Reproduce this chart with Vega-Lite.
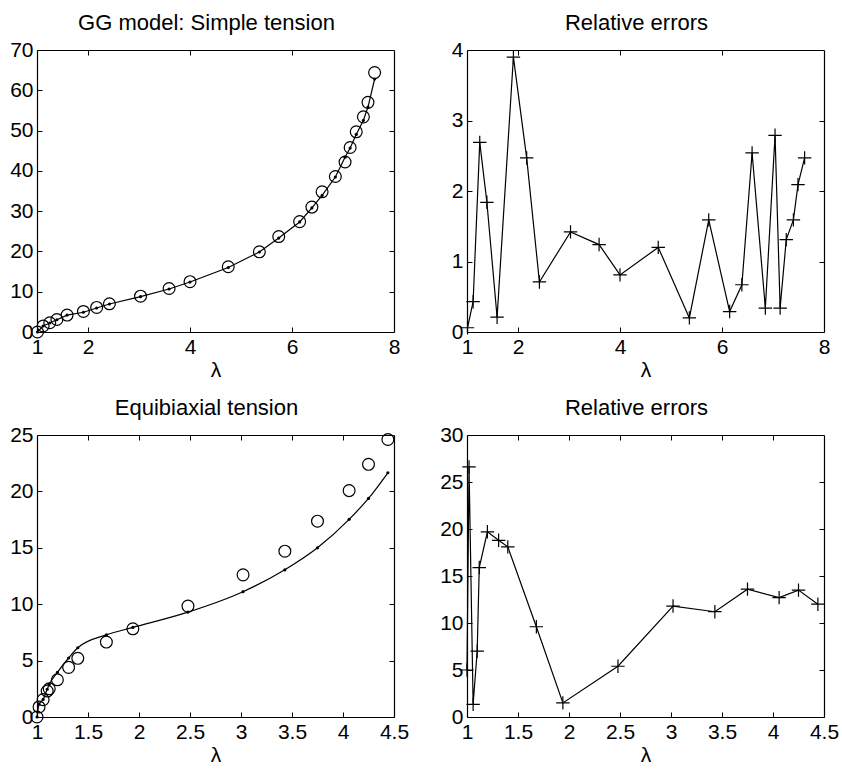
{
  "$schema": "https://vega.github.io/schema/vega-lite/v6.json",
  "background": "white",
  "padding": {"left": 9, "top": 12, "right": 5, "bottom": 5},
  "bounds": "flush",
  "spacing": {"row": 103, "column": 73},
  "columns": 2,
  "config": {
    "view": {"stroke": null},
    "font": "Liberation Sans",
    "axis": {
      "grid": false,
      "domainColor": "black",
      "domainWidth": 1.2,
      "tickColor": "black",
      "tickWidth": 1,
      "tickSize": -5,
      "labelPadding": 9,
      "labelFont": "Liberation Sans",
      "labelFontSize": 21,
      "labelColor": "black",
      "labelFlush": false,
      "labelOverlap": false,
      "titleFont": "Liberation Sans",
      "titleFontSize": 21,
      "titleFontWeight": "normal",
      "titleColor": "black",
      "titlePadding": 2
    },
    "title": {
      "font": "Liberation Sans",
      "fontSize": 22,
      "fontWeight": "normal",
      "color": "black",
      "frame": "group",
      "anchor": "middle",
      "baseline": "alphabetic",
      "offset": 0,
      "dx": -9
    }
  },
  "datasets": {
    "p1": [
      {"lambda": 1.01, "stress": 0, "model": 0},
      {"lambda": 1.12, "stress": 1.5, "model": 1.49},
      {"lambda": 1.25, "stress": 2.3, "model": 2.24},
      {"lambda": 1.39, "stress": 3.1, "model": 3.04},
      {"lambda": 1.59, "stress": 4.2, "model": 4.19},
      {"lambda": 1.91, "stress": 5.1, "model": 4.9},
      {"lambda": 2.17, "stress": 6.1, "model": 5.95},
      {"lambda": 2.42, "stress": 7.0, "model": 6.95},
      {"lambda": 3.03, "stress": 8.9, "model": 8.77},
      {"lambda": 3.59, "stress": 10.8, "model": 10.67},
      {"lambda": 4.0, "stress": 12.5, "model": 12.4},
      {"lambda": 4.75, "stress": 16.2, "model": 16.0},
      {"lambda": 5.36, "stress": 19.9, "model": 19.86},
      {"lambda": 5.74, "stress": 23.7, "model": 23.32},
      {"lambda": 6.15, "stress": 27.4, "model": 27.32},
      {"lambda": 6.39, "stress": 31.0, "model": 30.8},
      {"lambda": 6.59, "stress": 34.8, "model": 33.9},
      {"lambda": 6.85, "stress": 38.6, "model": 38.47},
      {"lambda": 7.04, "stress": 42.2, "model": 43.4},
      {"lambda": 7.14, "stress": 45.8, "model": 45.65},
      {"lambda": 7.26, "stress": 49.7, "model": 49.05},
      {"lambda": 7.40, "stress": 53.4, "model": 52.55},
      {"lambda": 7.49, "stress": 57.0, "model": 55.8},
      {"lambda": 7.62, "stress": 64.4, "model": 62.8}
    ],
    "p2": [
      {"lambda": 1.01, "err": 0.06},
      {"lambda": 1.12, "err": 0.43},
      {"lambda": 1.25, "err": 2.69},
      {"lambda": 1.39, "err": 1.84},
      {"lambda": 1.59, "err": 0.21},
      {"lambda": 1.91, "err": 3.90},
      {"lambda": 2.17, "err": 2.47},
      {"lambda": 2.42, "err": 0.71},
      {"lambda": 3.03, "err": 1.42},
      {"lambda": 3.59, "err": 1.24},
      {"lambda": 4.0, "err": 0.81},
      {"lambda": 4.75, "err": 1.20},
      {"lambda": 5.36, "err": 0.20},
      {"lambda": 5.74, "err": 1.59},
      {"lambda": 6.15, "err": 0.29},
      {"lambda": 6.39, "err": 0.67},
      {"lambda": 6.59, "err": 2.54},
      {"lambda": 6.85, "err": 0.34},
      {"lambda": 7.04, "err": 2.79},
      {"lambda": 7.14, "err": 0.34},
      {"lambda": 7.26, "err": 1.31},
      {"lambda": 7.40, "err": 1.59},
      {"lambda": 7.49, "err": 2.09},
      {"lambda": 7.62, "err": 2.47}
    ],
    "p3": [
      {"lambda": 1.0, "stress": 0, "model": 0},
      {"lambda": 1.02, "stress": 0.89, "model": 1.13},
      {"lambda": 1.06, "stress": 1.54, "model": 1.56},
      {"lambda": 1.10, "stress": 2.3, "model": 2.46},
      {"lambda": 1.12, "stress": 2.5, "model": 2.9},
      {"lambda": 1.20, "stress": 3.3, "model": 3.95},
      {"lambda": 1.31, "stress": 4.4, "model": 5.23},
      {"lambda": 1.40, "stress": 5.2, "model": 6.14},
      {"lambda": 1.68, "stress": 6.64, "model": 7.28},
      {"lambda": 1.94, "stress": 7.82, "model": 7.94},
      {"lambda": 2.48, "stress": 9.83, "model": 9.3},
      {"lambda": 3.02, "stress": 12.6, "model": 11.11},
      {"lambda": 3.43, "stress": 14.7, "model": 13.05},
      {"lambda": 3.75, "stress": 17.36, "model": 15.0},
      {"lambda": 4.06, "stress": 20.07, "model": 17.52},
      {"lambda": 4.25, "stress": 22.4, "model": 19.38},
      {"lambda": 4.44, "stress": 24.6, "model": 21.65}
    ],
    "p4": [
      {"lambda": 1.0, "err": 5.0},
      {"lambda": 1.02, "err": 26.6},
      {"lambda": 1.06, "err": 1.35},
      {"lambda": 1.10, "err": 7.0},
      {"lambda": 1.12, "err": 15.9},
      {"lambda": 1.20, "err": 19.7},
      {"lambda": 1.31, "err": 18.8},
      {"lambda": 1.40, "err": 18.1},
      {"lambda": 1.68, "err": 9.6},
      {"lambda": 1.94, "err": 1.5},
      {"lambda": 2.48, "err": 5.4},
      {"lambda": 3.02, "err": 11.8},
      {"lambda": 3.43, "err": 11.2},
      {"lambda": 3.75, "err": 13.6},
      {"lambda": 4.06, "err": 12.7},
      {"lambda": 4.25, "err": 13.5},
      {"lambda": 4.44, "err": 12.0}
    ]
  },
  "concat": [
    {
      "width": 357, "height": 282,
      "title": "GG model: Simple tension",
      "data": {"name": "p1"},
      "resolve": {"axis": {"x": "independent", "y": "independent"}},
      "layer": [
        {
          "mark": {"type": "line", "color": "black", "strokeWidth": 1.2},
          "encoding": {
            "x": {"field": "lambda", "type": "quantitative", "scale": {"domain": [1, 8], "nice": false, "zero": false}, "axis": {"values": [1, 2, 4, 6, 8], "title": "λ", "format": "~f"}},
            "y": {"field": "model", "type": "quantitative", "scale": {"domain": [0, 70], "nice": false}, "axis": {"values": [0, 10, 20, 30, 40, 50, 60, 70], "title": null, "format": "~f"}}
          }
        },
        {
          "mark": {"type": "point", "shape": "circle", "filled": true, "color": "black", "size": 10, "opacity": 1},
          "encoding": {
            "x": {"field": "lambda", "type": "quantitative", "axis": null},
            "y": {"field": "model", "type": "quantitative", "axis": null}
          }
        },
        {
          "mark": {"type": "point", "shape": "circle", "filled": false, "color": "black", "size": 140, "strokeWidth": 1.2, "opacity": 1},
          "encoding": {
            "x": {"field": "lambda", "type": "quantitative", "axis": {"orient": "top", "values": [2, 4, 6], "labels": false, "title": null}},
            "y": {"field": "stress", "type": "quantitative", "axis": {"orient": "right", "values": [10, 20, 30, 40, 50, 60], "labels": false, "title": null}}
          }
        }
      ]
    },
    {
      "width": 357, "height": 282,
      "title": "Relative errors",
      "data": {"name": "p2"},
      "resolve": {"axis": {"x": "independent", "y": "independent"}},
      "layer": [
        {
          "mark": {"type": "line", "color": "black", "strokeWidth": 1.2},
          "encoding": {
            "x": {"field": "lambda", "type": "quantitative", "scale": {"domain": [1, 8], "nice": false, "zero": false}, "axis": {"values": [1, 2, 4, 6, 8], "title": "λ", "format": "~f"}},
            "y": {"field": "err", "type": "quantitative", "scale": {"domain": [0, 4], "nice": false}, "axis": {"values": [0, 1, 2, 3, 4], "title": null, "format": "~f"}}
          }
        },
        {
          "mark": {"type": "point", "shape": "M-1,0H1M0,-1V1", "filled": false, "color": "black", "size": 180, "strokeWidth": 1.2, "opacity": 1},
          "encoding": {
            "x": {"field": "lambda", "type": "quantitative", "axis": {"orient": "top", "values": [2, 4, 6], "labels": false, "title": null}},
            "y": {"field": "err", "type": "quantitative", "axis": {"orient": "right", "values": [1, 2, 3], "labels": false, "title": null}}
          }
        }
      ]
    },
    {
      "width": 357, "height": 282,
      "title": "Equibiaxial tension",
      "data": {"name": "p3"},
      "resolve": {"axis": {"x": "independent", "y": "independent"}},
      "layer": [
        {
          "mark": {"type": "line", "color": "black", "strokeWidth": 1.2, "interpolate": "monotone"},
          "encoding": {
            "x": {"field": "lambda", "type": "quantitative", "scale": {"domain": [1, 4.5], "nice": false, "zero": false}, "axis": {"values": [1, 1.5, 2, 2.5, 3, 3.5, 4, 4.5], "title": "λ", "format": "~f"}},
            "y": {"field": "model", "type": "quantitative", "scale": {"domain": [0, 25], "nice": false}, "axis": {"values": [0, 5, 10, 15, 20, 25], "title": null, "format": "~f"}}
          }
        },
        {
          "mark": {"type": "point", "shape": "circle", "filled": true, "color": "black", "size": 10, "opacity": 1},
          "encoding": {
            "x": {"field": "lambda", "type": "quantitative", "axis": null},
            "y": {"field": "model", "type": "quantitative", "axis": null}
          }
        },
        {
          "mark": {"type": "point", "shape": "circle", "filled": false, "color": "black", "size": 140, "strokeWidth": 1.2, "opacity": 1},
          "encoding": {
            "x": {"field": "lambda", "type": "quantitative", "axis": {"orient": "top", "values": [1.5, 2, 2.5, 3, 3.5, 4], "labels": false, "title": null}},
            "y": {"field": "stress", "type": "quantitative", "axis": {"orient": "right", "values": [5, 10, 15, 20], "labels": false, "title": null}}
          }
        }
      ]
    },
    {
      "width": 357, "height": 282,
      "title": "Relative errors",
      "data": {"name": "p4"},
      "resolve": {"axis": {"x": "independent", "y": "independent"}},
      "layer": [
        {
          "mark": {"type": "line", "color": "black", "strokeWidth": 1.2},
          "encoding": {
            "x": {"field": "lambda", "type": "quantitative", "scale": {"domain": [1, 4.5], "nice": false, "zero": false}, "axis": {"values": [1, 1.5, 2, 2.5, 3, 3.5, 4, 4.5], "title": "λ", "format": "~f"}},
            "y": {"field": "err", "type": "quantitative", "scale": {"domain": [0, 30], "nice": false}, "axis": {"values": [0, 5, 10, 15, 20, 25, 30], "title": null, "format": "~f"}}
          }
        },
        {
          "mark": {"type": "point", "shape": "M-1,0H1M0,-1V1", "filled": false, "color": "black", "size": 180, "strokeWidth": 1.2, "opacity": 1},
          "encoding": {
            "x": {"field": "lambda", "type": "quantitative", "axis": {"orient": "top", "values": [1.5, 2, 2.5, 3, 3.5, 4], "labels": false, "title": null}},
            "y": {"field": "err", "type": "quantitative", "axis": {"orient": "right", "values": [5, 10, 15, 20, 25], "labels": false, "title": null}}
          }
        }
      ]
    }
  ]
}
